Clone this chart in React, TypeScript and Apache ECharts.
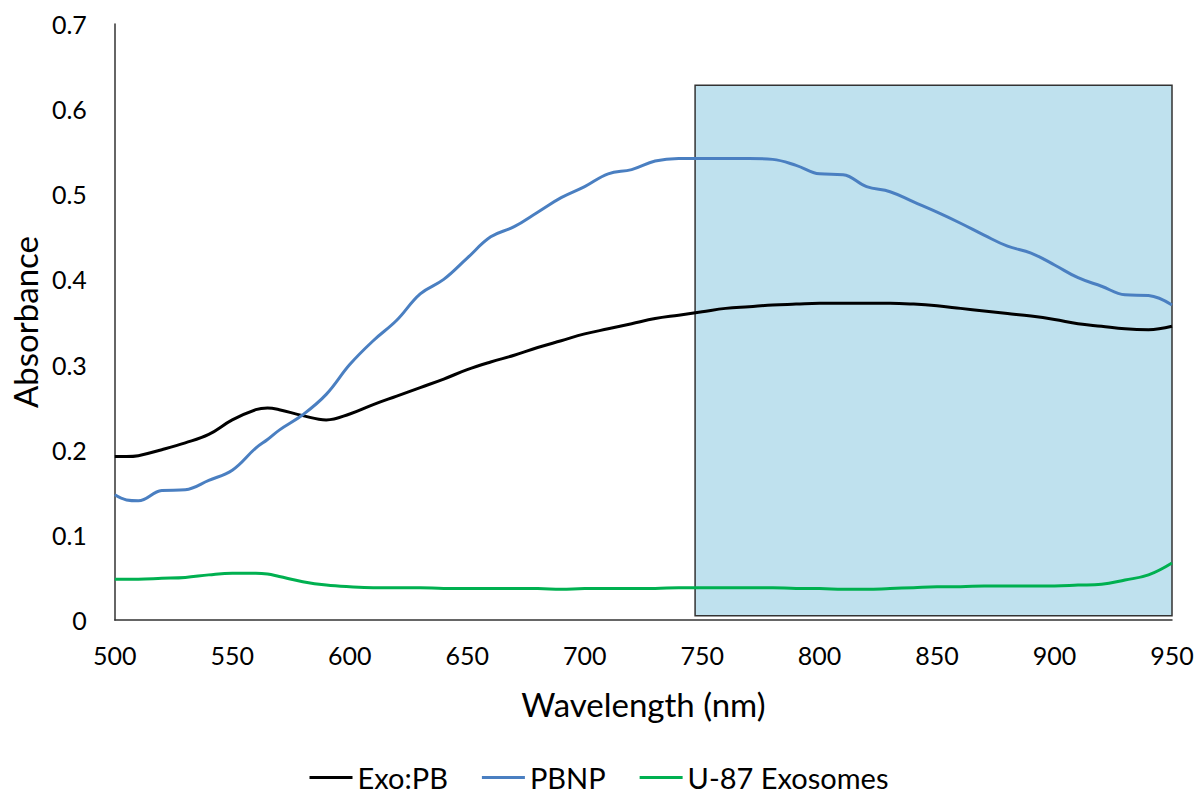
import React, { useEffect, useRef } from "react";
import * as echarts from "echarts";

const wavelengths = [500, 505, 510, 520, 530, 540, 550, 560, 565, 570, 580, 590, 600, 610, 620, 630, 640, 650, 660, 670, 680, 690, 700, 710, 720, 730, 740, 750, 760, 770, 780, 790, 800, 810, 820, 830, 840, 850, 860, 870, 880, 890, 900, 910, 920, 930, 940, 950];

const exoPB = [0.192, 0.192, 0.193, 0.200, 0.208, 0.218, 0.235, 0.247, 0.249, 0.247, 0.240, 0.235, 0.242, 0.253, 0.263, 0.273, 0.283, 0.294, 0.303, 0.311, 0.320, 0.328, 0.336, 0.342, 0.348, 0.354, 0.358, 0.362, 0.366, 0.368, 0.370, 0.371, 0.372, 0.372, 0.372, 0.372, 0.371, 0.369, 0.366, 0.363, 0.360, 0.357, 0.353, 0.348, 0.345, 0.342, 0.341, 0.345];

const pbnp = [0.147, 0.141, 0.140, 0.152, 0.153, 0.164, 0.176, 0.202, 0.212, 0.223, 0.241, 0.265, 0.300, 0.328, 0.352, 0.383, 0.400, 0.425, 0.450, 0.462, 0.479, 0.496, 0.509, 0.524, 0.529, 0.539, 0.542, 0.542, 0.542, 0.542, 0.541, 0.534, 0.524, 0.523, 0.509, 0.503, 0.491, 0.479, 0.466, 0.452, 0.439, 0.431, 0.417, 0.402, 0.392, 0.382, 0.381, 0.370];

const u87 = [0.048, 0.048, 0.048, 0.049, 0.050, 0.053, 0.055, 0.055, 0.054, 0.051, 0.045, 0.041, 0.039, 0.038, 0.038, 0.038, 0.037, 0.037, 0.037, 0.037, 0.037, 0.036, 0.037, 0.037, 0.037, 0.037, 0.038, 0.038, 0.038, 0.038, 0.038, 0.037, 0.037, 0.036, 0.036, 0.037, 0.038, 0.039, 0.039, 0.040, 0.040, 0.040, 0.040, 0.041, 0.042, 0.047, 0.053, 0.067];

const seriesNames = ["Exo:PB", "PBNP", "U-87 Exosomes"];
const seriesColors = ["#000000", "#4a7fc1", "#00b050"];
const shadedRange = { x0: 747, x1: 950, y0: 0.005, y1: 0.628 };

const font = "Lato, 'Open Sans', sans-serif";

export default function App() {
  const ref = useRef<HTMLDivElement>(null);
  useEffect(() => {
    if (!ref.current) return;
    const chart = echarts.init(ref.current, null, { renderer: "svg" });
    const toPairs = (arr: number[]) => wavelengths.map((w, i) => [w, arr[i]]);
    const datasets = [exoPB, pbnp, u87];
    chart.setOption({
      animation: false,
      backgroundColor: "#ffffff",
      textStyle: { fontFamily: font },
      grid: { left: 113, right: 26, top: 24, bottom: 174 },
      legend: {
        top: 763,
        left: "center",
        padding: 0,
        itemWidth: 43,
        itemHeight: 3,
        itemGap: 34,
        icon: "rect",
        textStyle: { fontSize: 29, lineHeight: 29, color: "#000", fontFamily: font },
        data: seriesNames,
      },
      xAxis: {
        type: "value",
        min: 500,
        max: 950,
        interval: 50,
        name: "Wavelength (nm)",
        nameLocation: "middle",
        nameGap: 67,
        nameTextStyle: { fontSize: 33, color: "#000", fontFamily: font },
        axisLine: { show: true, lineStyle: { color: "#333", width: 1.5 } },
        axisTick: { show: false },
        splitLine: { show: false },
        axisLabel: { fontSize: 25, color: "#000", margin: 22, fontFamily: font },
      },
      yAxis: {
        type: "value",
        min: 0,
        max: 0.7,
        interval: 0.1,
        name: "Absorbance",
        nameLocation: "middle",
        nameGap: 67,
        nameTextStyle: { fontSize: 33, color: "#000", fontFamily: font },
        axisLine: { show: true, lineStyle: { color: "#333", width: 1.5 } },
        axisTick: { show: false },
        splitLine: { show: false },
        axisLabel: { fontSize: 25, color: "#000", margin: 28, fontFamily: font },
      },
      series: datasets.map((d, i) => ({
        name: seriesNames[i],
        type: "line",
        data: toPairs(d),
        smooth: 0.4,
        symbol: "none",
        lineStyle: { color: seriesColors[i], width: 3 },
        itemStyle: { color: seriesColors[i] },
        z: 3,
        ...(i === 0
          ? {
              markArea: {
                silent: true,
                z: 1,
                itemStyle: { color: "#bfe1ee", borderColor: "#333", borderWidth: 1.5 },
                data: [[
                  { xAxis: shadedRange.x0, yAxis: shadedRange.y0 },
                  { xAxis: shadedRange.x1, yAxis: shadedRange.y1 },
                ]],
              },
            }
          : {}),
      })),
    });
    return () => chart.dispose();
  }, []);
  return (
    <div
      ref={ref}
      style={{ position: "absolute", left: 0, top: 0, width: 1198, height: 794 }}
    />
  );
}
